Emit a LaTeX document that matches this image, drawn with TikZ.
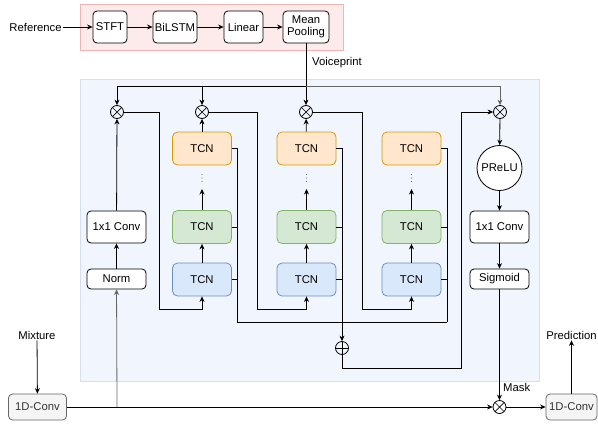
\documentclass[tikz,border=0pt]{standalone}
\usepackage{fontspec}
\setmainfont{Liberation Sans}
\usetikzlibrary{arrows.meta}
\definecolor{orfill}{HTML}{FFE6CC}
\definecolor{ordraw}{HTML}{D79B00}
\definecolor{grfill}{HTML}{D5E8D4}
\definecolor{grdraw}{HTML}{82B366}
\definecolor{blfill}{HTML}{DAE8FC}
\definecolor{bldraw}{HTML}{6C8EBF}
\definecolor{panelfill}{HTML}{F1F6FE}
\definecolor{paneldraw}{HTML}{D3E0F2}
\definecolor{pinkfill}{HTML}{FCEBEA}
\definecolor{pinkdraw}{HTML}{EFB5B2}
\definecolor{encfill}{HTML}{F5F5F5}
\definecolor{encdraw}{HTML}{666666}
\definecolor{enctext}{HTML}{333333}
\definecolor{dotcol}{HTML}{777777}
\newcommand{\fs}{\fontsize{11.3}{13}\selectfont}
\tikzset{
  base/.style={draw, rounded corners=4pt, inner sep=0pt, font=\fs, line width=0.8pt, align=center},
  wbox/.style={base, fill=white, minimum width=59pt},
  tcnbox/.style={base, rounded corners=5pt, minimum width=59pt, minimum height=33pt},
  tcno/.style={tcnbox, fill=orfill, draw=ordraw},
  tcng/.style={tcnbox, fill=grfill, draw=grdraw},
  tcnb/.style={tcnbox, fill=blfill, draw=bldraw},
  encbox/.style={base, fill=encfill, draw=encdraw, text=enctext, minimum width=58pt, minimum height=26pt},
  lbl/.style={font=\fs, inner sep=1pt},
  arr/.style={-{Stealth[length=5.5pt,width=5pt]}, line width=0.8pt},
  ln/.style={line width=0.8pt},
  mul/.style={circle, draw, line width=0.8pt, minimum size=13pt, inner sep=0pt,
    path picture={\draw[line width=0.7pt] (path picture bounding box.north west) -- (path picture bounding box.south east)
      (path picture bounding box.north east) -- (path picture bounding box.south west);}},
  add/.style={circle, draw, line width=0.8pt, minimum size=13pt, inner sep=0pt,
    path picture={\draw[line width=0.7pt] (path picture bounding box.north) -- (path picture bounding box.south)
      (path picture bounding box.west) -- (path picture bounding box.east);}},
}
\begin{document}
\begin{tikzpicture}[x=1pt, y=-1pt]
\useasboundingbox (0,0) rectangle (598,424);
% backgrounds
\path[fill=pinkfill, draw=pinkdraw, line width=0.8pt] (80,4) rectangle (343,50);
\path[fill=panelfill, draw=paneldraw, line width=0.8pt] (80,79) rectangle (539,381);

% reference encoder
\node[lbl] (ref) at (35.5,27) {Reference};
\node[wbox, minimum width=34pt, minimum height=32pt] (stft) at (110,27) {STFT};
\node[wbox, minimum width=44pt, minimum height=32pt] (bilstm) at (175,27) {BiLSTM};
\node[wbox, minimum width=39pt, minimum height=32pt] (linear) at (243.5,27) {Linear};
\node[wbox, minimum width=46pt, minimum height=32pt] (mp) at (306,27) {Mean\\[-1pt]Pooling};
\draw[arr] (ref) -- (stft);
\draw[arr] (stft) -- (bilstm);
\draw[arr] (bilstm) -- (linear);
\draw[arr] (linear) -- (mp);
\node[lbl, anchor=west] (vp) at (311,63) {Voiceprint};

% multipliers
\node[mul] (m1) at (117,112) {};
\node[mul] (m2) at (202,112) {};
\node[mul] (m3) at (306,112) {};
\node[mul] (m4) at (500,112) {};
\coordinate (bus) at (306,86);
\draw[arr] (mp.south) -- (m3.north);
\draw[arr] (bus) -| (m1.north);
\draw[arr] (bus) -| (m2.north);
\draw[arr, draw=encdraw] (bus) -| (m4.north);

% left column
\node[wbox, minimum height=32pt] (conv1) at (116.5,227) {1x1 Conv};
\node[wbox, minimum height=20pt] (norm) at (116.5,279) {Norm};

% TCN columns
\foreach \i/\x in {1/202, 2/306.5, 3/411.5} {
  \node[tcno] (o\i) at (\x,148.5) {TCN};
  \node[tcng] (g\i) at (\x,227) {TCN};
  \node[tcnb] (b\i) at (\x,279.5) {TCN};
  \foreach \yy in {174.5,178,181.5} {\fill[dotcol] (\x,\yy) circle (0.6pt);}
  \coordinate (t\i) at (\x,189);
  \draw[arr] (b\i) -- (g\i);
  \draw[arr] (g\i.north) -- (t\i);
}

% right column
\node[circle, draw, line width=0.8pt, fill=white, minimum size=45pt, inner sep=0pt, font=\fs] (prelu) at (499.5,168) {PReLU};
\node[wbox, minimum height=32pt] (conv2) at (499.5,227) {1x1 Conv};
\node[wbox, minimum height=20pt] (sig) at (499.5,279) {Sigmoid};

% bottom
\node[encbox] (enc1) at (37.5,407) {1D-Conv};
\node[encbox, minimum width=51pt] (enc2) at (571.5,407) {1D-Conv};
\node[mul] (mb) at (499.5,407) {};
\node[lbl] (mix) at (37,335) {Mixture};
\node[lbl] (pred) at (571.5,335) {Prediction};
\node[lbl, anchor=west] (mask) at (502,387) {Mask};

% main path
\coordinate (j0) at (117,407);
\draw[arr] (mix) -- (enc1);
\draw[arr] (enc1) -- (mb);
\draw[arr, draw=encdraw] (j0) -- (norm);
\draw[arr] (norm) -- (conv1);
\draw[arr] (conv1) -- (m1);

% multiplier outputs into TCN stacks
\coordinate (d1) at (159,309);
\coordinate (d2) at (257,309);
\coordinate (d3) at (362,309);
\draw[arr] (m1.east) -| (d1) -| (b1.south);
\draw[arr] (m2.east) -| (d2) -| (b2.south);
\draw[arr] (m3.east) -| (d3) -| (b3.south);
\draw[arr] (o1) -- (m2);
\draw[arr] (o2) -- (m3);

% skip connections
\node[add] (plus) at (342,348) {};
\coordinate (s1) at (237,322);
\coordinate (s3) at (447,322);
\coordinate (s2) at (342,322);
\draw[ln] (o1.east) -| (s1);
\draw[ln] (g1.east) -- (g1.east -| s1);
\draw[ln] (b1.east) -- (b1.east -| s1);
\draw[ln] (o3.east) -| (s3);
\draw[ln] (g3.east) -- (g3.east -| s3);
\draw[ln] (b3.east) -- (b3.east -| s3);
\draw[ln] (s1) -- (s3);
\draw[arr] (o2.east) -| (plus.north);
\draw[ln] (g2.east) -- (g2.east -| s2);
\draw[ln] (b2.east) -- (b2.east -| s2);
\coordinate (r1) at (461,368);
\draw[arr] (plus.south) |- (r1) |- (m4.west);

% output head
\draw[arr] (m4) -- (prelu);
\draw[arr] (prelu) -- (conv2);
\draw[arr] (conv2) -- (sig);
\draw[arr] (sig) -- (mb);
\draw[arr] (mb) -- (enc2);
\draw[arr] (enc2) -- (pred);
\end{tikzpicture}
\end{document}
